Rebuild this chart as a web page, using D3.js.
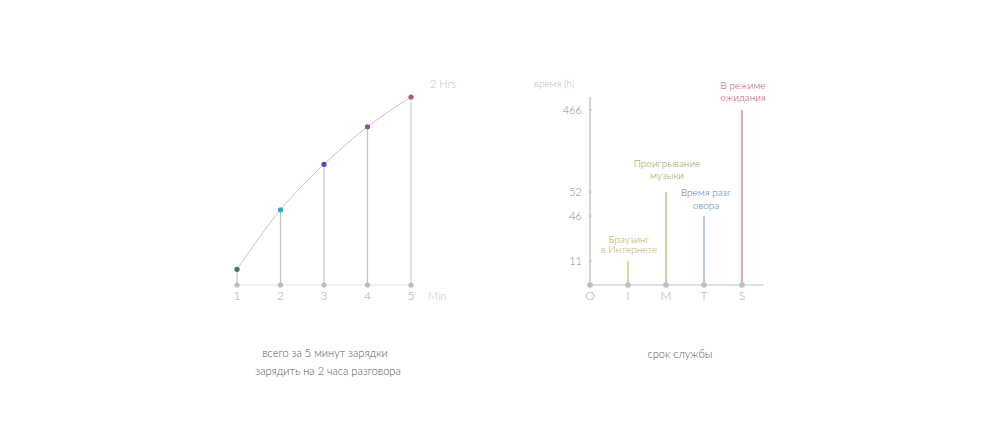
<!DOCTYPE html>
<html><head><meta charset="utf-8">
<script src="https://cdn.jsdelivr.net/npm/d3@7"></script>
<style>
body{margin:0;background:#fff;}
svg text{font-family:"Lato","Open Sans",sans-serif;font-weight:300;}
</style></head>
<body><svg id="c" width="1000" height="423"></svg>
<script>
// Left chart data
const chargeMinutes = [1, 2, 3, 4, 5];
const talkMinutes = [10, 48, 77, 101, 120];
const pointColors = ["#3f7a4f", "#29a9cf", "#5448c0", "#8f4aa5", "#b5507a"];
const leftTopLabel = "2 Hrs";
const leftAxisLabel = "Min";
const leftCaption = ["всего за 5 минут зарядки", "зарядить на 2 часа разговора"];

// Right chart data
const usageCats = ["O", "I", "M", "T", "S"];
const usageHours = [0, 11, 52, 46, 466];
const usageLabels = [[], ["Браузинг", "в Интернете"], ["Проигрывание", "музыки"], ["Время разг", "овора"], ["В режиме", "ожидания"]];
const usageColors = ["#999", "#d6b15e", "#9ebb69", "#7fa4d6", "#d4708f"];
const usageLabelColors = ["#999", "#c9a04e", "#7fa245", "#4a74b5", "#c4466f"];
const usageTicks = [11, 46, 52, 466];
const rightAxisTitle = "время (h)";
const rightCaption = "срок службы";

// layout: gap (px) between bar top and the last label line's baseline
const labelGap = [0, 8, 13, 7, 9.5];
const labelLineHeight = [0, 10.5, 12, 13, 12];

const svg = d3.select("#c");

// ---------- Left chart ----------
const xL = d3.scalePoint().domain(chargeMinutes).range([237, 411]);
const yL = d3.scaleLinear().domain([0, 120]).range([285, 97]);
const gL = svg.append("g");

gL.append("line").attr("x1", xL(1)).attr("x2", xL(5)).attr("y1", yL(0)).attr("y2", yL(0))
  .attr("stroke", "#e6e6e6").attr("stroke-width", 1);

gL.selectAll(".vl").data(chargeMinutes).join("line")
  .attr("x1", d => xL(d)).attr("x2", d => xL(d))
  .attr("y1", yL(0)).attr("y2", (d, i) => yL(talkMinutes[i]))
  .attr("stroke", (d, i) => i === 4 ? "#e2cdd6" : "#c4c4c4").attr("stroke-width", 1.2);

const line = d3.line().x((d, i) => xL(chargeMinutes[i])).y(d => yL(d)).curve(d3.curveMonotoneX);
gL.append("path").datum(talkMinutes).attr("d", line)
  .attr("fill", "none").attr("stroke", "#c9bfd6").attr("stroke-width", 1);

gL.selectAll(".ad").data(chargeMinutes).join("circle")
  .attr("cx", d => xL(d)).attr("cy", yL(0)).attr("r", 2.6).attr("fill", "#bdbdbd");

gL.selectAll(".pt").data(talkMinutes).join("circle")
  .attr("cx", (d, i) => xL(chargeMinutes[i])).attr("cy", d => yL(d)).attr("r", 2.6)
  .attr("fill", (d, i) => pointColors[i]);

gL.selectAll(".tl").data(chargeMinutes).join("text")
  .attr("x", d => xL(d)).attr("y", 300).attr("text-anchor", "middle")
  .attr("font-size", 12).attr("fill", "#a8a8a8").text(d => d);

gL.append("text").attr("x", 428).attr("y", 300).attr("font-size", 11).attr("fill", "#c4c4c4").text(leftAxisLabel);
gL.append("text").attr("x", 430).attr("y", 88).attr("font-size", 11).attr("fill", "#c4c4c4").text(leftTopLabel);

gL.selectAll(".cap").data(leftCaption).join("text")
  .attr("x", (d, i) => i === 0 ? 325 : 328).attr("y", (d, i) => 357 + i * 18)
  .attr("text-anchor", "middle").attr("font-size", 11).attr("fill", "#555").text(d => d);

// ---------- Right chart ----------
const xR = d3.scalePoint().domain(usageCats).range([590, 742]);
const yR = d3.scaleLinear().domain([0, 11, 46, 52, 466]).range([285, 261, 216, 192, 110]);
const gR = svg.append("g");

gR.append("line").attr("x1", 590).attr("x2", 590).attr("y1", 97).attr("y2", 285)
  .attr("stroke", "#b8b8b8").attr("stroke-width", 1.2);
gR.append("line").attr("x1", 590).attr("x2", 764).attr("y1", 285).attr("y2", 285)
  .attr("stroke", "#c4c4c4").attr("stroke-width", 1.2);

gR.selectAll(".yt").data(usageTicks).join("line")
  .attr("x1", 589).attr("x2", 592).attr("y1", d => yR(d)).attr("y2", d => yR(d))
  .attr("stroke", "#c4c4c4");
gR.selectAll(".ytl").data(usageTicks).join("text")
  .attr("x", 582).attr("y", d => yR(d) + 4).attr("text-anchor", "end")
  .attr("font-size", 11).attr("fill", "#8a8a8a").text(d => d);

gR.selectAll(".bar").data(usageHours).join("line")
  .attr("x1", (d, i) => xR(usageCats[i])).attr("x2", (d, i) => xR(usageCats[i]))
  .attr("y1", 285).attr("y2", d => yR(d))
  .attr("stroke", (d, i) => usageColors[i]).attr("stroke-width", 1.2);

gR.selectAll(".xd").data(usageCats).join("circle")
  .attr("cx", d => xR(d)).attr("cy", 285).attr("r", 2.8).attr("fill", "#bdbdbd");

gR.selectAll(".xtl").data(usageCats).join("text")
  .attr("x", d => xR(d)).attr("y", 300).attr("text-anchor", "middle")
  .attr("font-size", 12).attr("fill", "#a8a8a8").text(d => d);

const labelDx = [0, 1, 1, 2, 1];
usageLabels.forEach((lines, i) => {
  if (!lines.length) return;
  const top = yR(usageHours[i]);
  lines.forEach((t, j) => {
    gR.append("text")
      .attr("x", xR(usageCats[i]) + labelDx[i])
      .attr("y", top - labelGap[i] - (lines.length - 1 - j) * labelLineHeight[i])
      .attr("text-anchor", "middle").attr("font-size", 10)
      .attr("fill", usageLabelColors[i]).text(t);
  });
});

gR.append("text").attr("x", 534).attr("y", 87).attr("font-size", 10).attr("fill", "#b8b8b8").text(rightAxisTitle);
gR.append("text").attr("x", 680).attr("y", 358).attr("text-anchor", "middle")
  .attr("font-size", 11).attr("fill", "#555").text(rightCaption);
</script></body></html>
